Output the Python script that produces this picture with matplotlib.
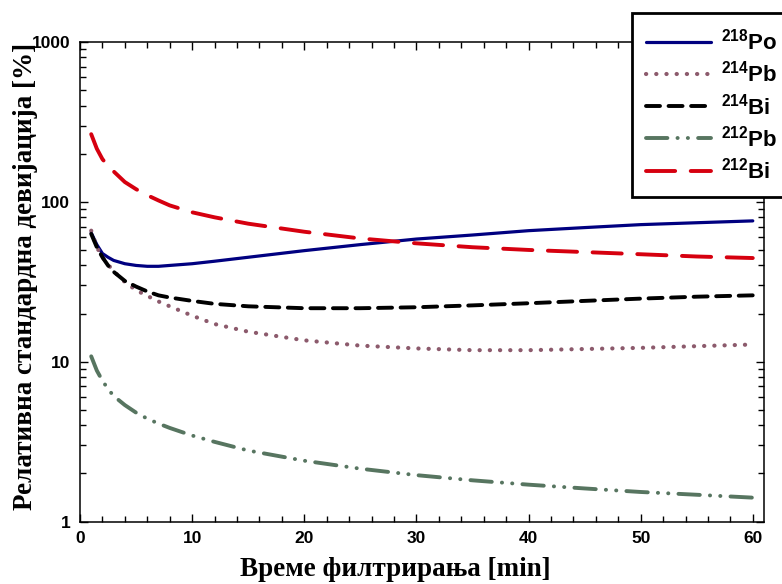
import matplotlib
matplotlib.use("Agg")
import matplotlib.pyplot as plt
from matplotlib.patches import Rectangle
from matplotlib.ticker import FixedLocator, LogLocator, NullFormatter, FixedFormatter

plt.rcParams['mathtext.default'] = 'regular'

# filtration time [min]
t = [1, 1.5, 2, 2.5, 3, 4, 5, 6, 7, 8, 10, 12, 15, 20, 25, 30, 35, 40, 45, 50, 55, 60]

# relative standard deviation [%]
po218 = [64, 54, 47.5, 45, 43, 41, 40, 39.5, 39.5, 40, 41, 42.5, 45, 49.5, 54, 58.5, 62, 66, 69, 72, 74, 76]
pb214 = [66, 52, 45, 40.5, 36.8, 31.5, 28, 25.8, 23.8, 22.2, 19.4, 17.2, 15.4, 13.6, 12.6, 12.1, 11.8, 11.8, 12, 12.2, 12.5, 12.8]
bi214 = [63, 52, 45, 40, 36.5, 32, 29.5, 27.5, 26, 25.2, 24, 23, 22.2, 21.6, 21.6, 21.9, 22.5, 23.2, 24, 24.8, 25.5, 26]
pb212 = [10.8, 8.8, 7.6, 6.75, 6.1, 5.35, 4.8, 4.4, 4.1, 3.85, 3.45, 3.15, 2.78, 2.4, 2.14, 1.95, 1.81, 1.7, 1.61, 1.53, 1.47, 1.41]
bi212 = [265, 215, 185, 168, 155, 133, 120, 110, 102, 95, 86, 80, 73, 65, 59, 55, 52, 50, 48.5, 47, 45.5, 44.5]

labels = [r'$^{218}$Po', r'$^{214}$Pb', r'$^{214}$Bi', r'$^{212}$Pb', r'$^{212}$Bi']

x_ticks = [0, 10, 20, 30, 40, 50, 60]
y_ticks = [1, 10, 100, 1000]
y_tick_labels = ['1', '10', '100', '1000']

styles = [
    dict(color='#000080', lw=2.3, ls='-', solid_capstyle='round'),
    dict(color='#8c5a6c', lw=3.0, ls=(0, (0.05, 2.4)), dash_capstyle='round'),
    dict(color='#000000', lw=2.8, ls=(0, (3.6, 2.2)), dash_capstyle='round'),
    dict(color='#577560', lw=2.8, ls=(0, (5.5, 2.6, 0.05, 2.6, 0.05, 2.6)), dash_capstyle='round'),
    dict(color='#d6000f', lw=2.8, ls=(0, (7.5, 4.0)), dash_capstyle='round'),
]

fig = plt.figure(figsize=(7.82, 5.84), dpi=100)
ax = fig.add_axes([80 / 782, 62.5 / 584, 684 / 782, 479.5 / 584])

series = [po218, pb214, bi214, pb212, bi212]
handles = []
for ys, st, lab in zip(series, styles, labels):
    ln, = ax.plot(t, ys, label=lab, **st)
    handles.append(ln)

ax.set_yscale('log')
ax.set_xlim(0, 61)
ax.set_ylim(1, 1000)

ax.xaxis.set_major_locator(FixedLocator(x_ticks))
ax.xaxis.set_minor_locator(FixedLocator([v for v in range(0, 61, 2) if v % 10]))
ax.yaxis.set_major_locator(FixedLocator(y_ticks))
ax.yaxis.set_major_formatter(FixedFormatter(y_tick_labels))
ax.yaxis.set_minor_locator(LogLocator(base=10, subs=range(2, 10)))
ax.yaxis.set_minor_formatter(NullFormatter())

ax.tick_params(which='both', direction='in', top=True, right=True, width=1.0, colors='black')
ax.tick_params(which='major', length=6, pad=7)
ax.tick_params(which='minor', length=4)
for lab in ax.get_xticklabels() + ax.get_yticklabels():
    lab.set_fontfamily('Liberation Sans')
    lab.set_fontweight('bold')
    lab.set_fontsize(12.5)
for sp in ax.spines.values():
    sp.set_linewidth(1.1)

ax.set_xlabel('Време филтрирања [min]', fontfamily='Liberation Serif',
              fontweight='bold', fontsize=19.5)
ax.xaxis.set_label_coords(0.4605, -0.0745)
ax.set_ylabel('Релативна стандардна девијација [%]', fontfamily='Liberation Serif',
              fontweight='bold', fontsize=19.5)
ax.yaxis.set_label_coords(-0.0614, 0.512)

# legend box reaching past the right edge of the figure
fig.patches.append(Rectangle((632 / 782, 1 - 197 / 584), 0.3, 184 / 584,
                             transform=fig.transFigure, facecolor='white',
                             edgecolor='black', linewidth=2.0, zorder=5))
leg = fig.legend(handles=handles, loc='upper left',
                 bbox_to_anchor=(637 / 782, 1 - 20 / 584),
                 frameon=False, handlelength=2.95, handletextpad=0.45,
                 labelspacing=0.28, borderaxespad=0,
                 prop={'family': 'Liberation Sans', 'weight': 'bold', 'size': 16})
leg.set_zorder(6)

fig.savefig('out.png', dpi=100)
